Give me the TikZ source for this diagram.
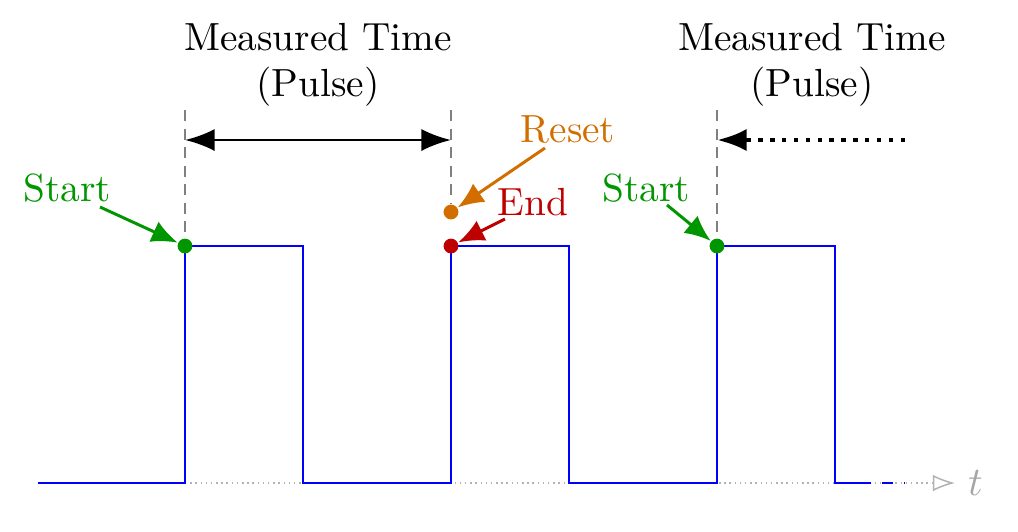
\documentclass[tikz,border=0pt]{standalone}
\usepackage{tikz}
\usetikzlibrary{arrows.meta}
\definecolor{startgreen}{RGB}{0,150,0}
\definecolor{endred}{RGB}{190,0,0}
\definecolor{resetorange}{RGB}{210,110,0}
\newcommand{\lblfont}{\fontsize{10.6}{12.5}\selectfont}
\tikzset{
  signal/.style={blue, thick},
  marker/.style={gray, densely dashed, thin},
  pointer/.style={-{Latex[length=7pt,width=6pt]}, thick},
  dot/.style={circle, fill, inner sep=0pt, minimum size=4pt},
  caption/.style={align=center, font=\lblfont}
}
\begin{document}
\begin{tikzpicture}[x=0.27pt, y=-0.27pt]
\useasboundingbox (0,0) rectangle (1018,531);

% time axis
\coordinate (axisL) at (185,483);
\coordinate (axisR) at (955,483);
\draw[gray!60, densely dotted, -{Latex[open,length=6pt]}] (axisL) -- (axisR);
\node[gray!70, font=\lblfont, anchor=west] (t) at (axisR) {$t$};

% pulses
\draw[signal] (38,483) -- (185,483) -- (185,246) -- (303,246) -- (303,483)
  -- (451,483) -- (451,246) -- (569,246) -- (569,483)
  -- (717,483) -- (717,246) -- (835,246) -- (835,483) -- (860,483);
\draw[signal, dashed] (860,483) -- (905,483);

% markers
\coordinate (topA) at (185,110);
\coordinate (topB) at (451,110);
\coordinate (topC) at (717,110);
\node[dot, startgreen] (startA) at (185,246) {};
\node[dot, endred] (endB) at (451,246) {};
\node[dot, resetorange] (resetB) at (451,212) {};
\node[dot, startgreen] (startC) at (717,246) {};
\draw[marker] (topA) -- (startA);
\draw[marker] (topB) -- (resetB);
\draw[marker] (topC) -- (startC);

% measured intervals
\coordinate (arrA) at (185,140);
\coordinate (arrB) at (451,140);
\coordinate (arrC) at (717,140);
\coordinate (arrD) at (905,140);
\draw[thick, {Latex[length=8pt]}-{Latex[length=8pt]}] (arrA) -- (arrB);
\draw[very thick, dotted, -{Latex[length=8pt]}] (arrD) -- (arrC);
\node[caption] (measA) at (318,65) {Measured Time\\(Pulse)};
\node[caption] (measC) at (812,65) {Measured Time\\(Pulse)};

% labels
\node[startgreen, font=\lblfont] (lblStartA) at (67,188) {Start};
\node[startgreen, font=\lblfont] (lblStartC) at (646,188) {Start};
\node[endred, font=\lblfont] (lblEnd) at (533,202) {End};
\node[resetorange, font=\lblfont] (lblReset) at (568,130) {Reset};
\coordinate (tipStartA) at (100,207);
\coordinate (tipStartC) at (667,205);
\coordinate (tipEnd) at (505,219);
\coordinate (tipReset) at (545,148);
\draw[pointer, startgreen] (tipStartA) -- (startA);
\draw[pointer, startgreen] (tipStartC) -- (startC);
\draw[pointer, endred] (tipEnd) -- (endB);
\draw[pointer, resetorange] (tipReset) -- (resetB);
\end{tikzpicture}
\end{document}
